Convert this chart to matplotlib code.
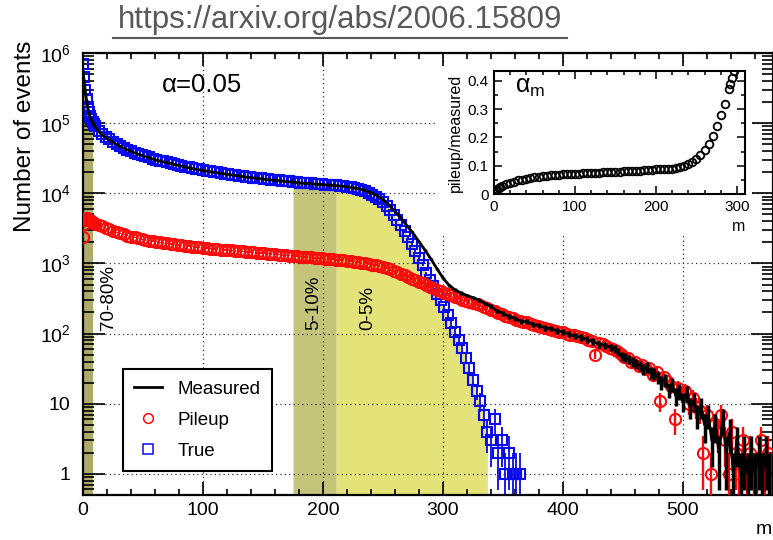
import numpy as np
import matplotlib.pyplot as plt
from matplotlib.lines import Line2D
from matplotlib.patches import Rectangle
from matplotlib.ticker import LogLocator, FuncFormatter, MultipleLocator, NullFormatter

plt.rcParams['font.family'] = ['Liberation Sans', 'DejaVu Sans']
plt.rcParams['mathtext.fontset'] = 'custom'
plt.rcParams['mathtext.rm'] = 'Liberation Sans'
plt.rcParams['mathtext.it'] = 'Liberation Sans:italic'

# ---- data ----
# True (blue squares): m = 0..9, then every 3rd bin 10..364
m_true = list(range(10)) + list(range(10, 367, 3))
true_counts = [700000, 450000, 300000, 220000, 170000, 145000, 125000, 115000, 105000, 98000,
               92000, 78000, 70000, 64000, 58500, 54000, 50500, 47000, 44500, 42000,   # 10..37
               40000, 38000, 36500, 35000, 33500, 32500, 31300, 30200, 29300, 28500,   # 40..67
               27500, 26800, 26000, 25300, 24600, 24000, 23400, 22800, 22400, 21900,   # 70..97
               21500, 21000, 20600, 20100, 19800, 19400, 19000, 18700, 18400, 18100,   # 100..127
               17800, 17500, 17200, 17000, 16700, 16500, 16300, 16100, 15900, 15700,   # 130..157
               15500, 15300, 15100, 14950, 14800, 14600, 14400, 14250, 14100, 13950,   # 160..187
               13800, 13700, 13550, 13450, 13300, 13200, 13100, 12950, 12800, 12600,   # 190..217
               12400, 12150, 11900, 11600, 11250, 10800, 10250, 9600, 8900, 8200,      # 220..247
               7400, 6600, 5750, 4950, 4200, 3500, 2900, 2350, 1900, 1500,             # 250..277
               1200, 950, 740, 590, 470, 370, 300, 240, 185, 140,                      # 280..307
               105, 80, 62, 45, 32, 22, 15, 11, 7, 4,                                  # 310..337
               3, 6, 2, 3, 1, 2, 1, 1, 1]                                              # 340..364

# Pileup (red circles): m = 0..9, then every 3rd bin 10..574
m_pileup = list(range(10)) + list(range(10, 576, 3))
pileup_counts = [2400, 3600, 4200, 4400, 4300, 4200, 4100, 4000, 3900, 3800,
                 3650, 3500, 3380, 3150, 3050, 2900, 2800, 2680, 2600, 2500,   # 10..37
                 2420, 2350, 2280, 2220, 2170, 2120, 2080, 2040, 2000, 1960,   # 40..67
                 1930, 1900, 1870, 1840, 1810, 1790, 1770, 1740, 1720, 1690,   # 70..97
                 1670, 1650, 1630, 1620, 1600, 1580, 1560, 1550, 1530, 1510,   # 100..127
                 1500, 1490, 1470, 1455, 1440, 1420, 1410, 1395, 1380, 1365,   # 130..157
                 1350, 1335, 1320, 1305, 1295, 1280, 1270, 1255, 1245, 1230,   # 160..187
                 1220, 1210, 1195, 1185, 1170, 1160, 1150, 1135, 1125, 1110,   # 190..217
                 1100, 1080, 1065, 1045, 1030, 1010, 990, 965, 940, 910,       # 220..247
                 880, 850, 820, 785, 750, 710, 675, 640, 610, 575,             # 250..277
                 545, 520, 490, 465, 445, 420, 400, 385, 365, 350,             # 280..307
                 335, 320, 305, 295, 285, 270, 262, 252, 240, 230,             # 310..337
                 220, 210, 198, 188, 180, 172, 165, 158, 153, 148,             # 340..367
                 145, 138, 133, 130, 124, 120, 117, 114, 110, 107,             # 370..397
                 104, 100, 97, 95, 91, 88, 86, 82, 79, 50,                     # 400..427
                 73, 71, 66, 63, 60, 56, 51, 47, 45, 40,                       # 430..457
                 39, 34, 36, 31, 32, 26, 28, 11, 24, 21,                       # 460..487
                 18, 6, 17, 14, 15, 10, 12, 9, 8, 2,                           # 490..517
                 7, 1, 5, 4, 7, 3, 1, 4, 2, 1,                                 # 520..547
                 3, 1, 2, 1, 1, 3, 1, 2, 1]                                    # 550..574

# Measured (black line)
m_meas = [0, 1, 2, 3, 4, 5, 6, 8, 10, 12, 15] + list(range(20, 440, 5)) + list(range(440, 576, 3))
measured_counts = [550000, 400000, 280000, 210000, 165000, 140000, 121000, 102000, 90000, 80000, 70000,
                   61000, 53000, 47500, 43000, 39500, 36500, 34000, 32000, 30000, 28600,
                   27200, 25900, 24700, 23700, 22700, 21900, 21200, 20400, 19800, 19200,
                   18600, 18100, 17600, 17100, 16700, 16300, 15900, 15600, 15300, 15000,
                   14700, 14400, 14100, 13900, 13700, 13500, 13300, 13100, 12900, 12700,
                   12400, 12000, 11600, 11000, 10200, 9300, 8100, 6800, 5500, 4400,
                   3450, 2700, 2050, 1550, 1150, 840, 620, 490, 420, 380,
                   350, 325, 300, 270, 245, 210, 195, 175, 165, 150,
                   148, 135, 131, 120, 118, 109, 106, 98, 92, 89,
                   82, 78, 71, 68,
                   64, 60, 55, 47, 46, 43, 40, 37, 35, 31,
                   33, 28, 27, 24, 20, 22, 16, 19, 13, 15,
                   11, 14, 9, 11, 7, 9, 5, 7, 3, 5,
                   2, 6, 2, 4, 1, 3, 1, 2, 1, 2,
                   1, 2, 1, 2, 1, 1]

# inset: pileup/measured
m_ratio = [0, 2, 4, 6, 8, 10] + list(range(15, 291, 5)) + [292, 294, 296]
ratio = [0.005, 0.012, 0.018, 0.022, 0.026, 0.029,
         0.035, 0.040, 0.044, 0.048, 0.051, 0.054, 0.057, 0.059, 0.061, 0.063,
         0.064, 0.066, 0.067, 0.068, 0.069, 0.070, 0.071, 0.071, 0.072, 0.073,
         0.074, 0.074, 0.075, 0.076, 0.077, 0.077, 0.078, 0.078, 0.079, 0.080,
         0.080, 0.081, 0.082, 0.083, 0.084, 0.085, 0.086, 0.087, 0.088, 0.088,
         0.089, 0.090, 0.092, 0.095, 0.100, 0.106, 0.114, 0.124, 0.138, 0.155,
         0.178, 0.205, 0.240, 0.280, 0.320, 0.370,
         0.39, 0.41, 0.435]

# centrality classes: (label, m from, m to, colour, label x)
bands = [('70-80%', 0, 8, '#aeaa6c', 21),
         ('5-10%', 175, 211, '#c4c47a', 192),
         ('0-5%', 211, 337, '#e3e37a', 237.5)]

mt = np.array(m_true)
tc = np.array(true_counts, dtype=float)
mp = np.array(m_pileup)
pc = np.array(pileup_counts, dtype=float)
mm = np.array(m_meas)
mc = np.array(measured_counts, dtype=float)

fig = plt.figure(figsize=(7.73, 5.40), dpi=100)
ax = fig.add_axes([83 / 773, 45 / 540, 690 / 773, 442 / 540])
ax.set_yscale('log')
ax.set_xlim(0, 575)
ax.set_ylim(0.5, 1e6)

for lab, lo, hi, col, xt in bands:
   sel = (mt >= lo) & (mt <= hi)
   ax.fill_between(mt[sel], tc[sel], 0.5, color=col, lw=0, zorder=0.3)
   ax.text(xt, 112, lab, rotation=90, ha='center', va='bottom', fontsize=13.5)

ax.errorbar(mt, tc, yerr=np.sqrt(tc), fmt='s', ms=7.5, mfc='none', mec='#0a0aee', mew=1.5,
            ecolor='#0a0aee', elinewidth=1.3, zorder=2)
ax.errorbar(mp, pc, yerr=np.sqrt(pc), fmt='o', ms=8, mfc='none', mec='#ff0a0a', mew=1.5,
            ecolor='#ff0a0a', elinewidth=1.7, zorder=3)
ax.errorbar(mm, mc, yerr=np.sqrt(mc), fmt='-', color='k', lw=2, elinewidth=2.5, zorder=4)

ax.grid(which='major', ls=(0, (1, 2.5)), color='#333333', lw=0.9)
ax.set_axisbelow(True)

ax.yaxis.set_major_locator(LogLocator(base=10, numticks=12))
ax.yaxis.set_minor_locator(LogLocator(base=10, subs=np.arange(2, 10), numticks=12))
ax.yaxis.set_minor_formatter(NullFormatter())
ax.yaxis.set_major_formatter(FuncFormatter(
   lambda v, p: '1' if v == 1 else ('10' if v == 10 else r'$10^{%d}$' % round(np.log10(v)))))
ax.xaxis.set_major_locator(MultipleLocator(100))
ax.xaxis.set_minor_locator(MultipleLocator(20))

ax.tick_params(which='both', direction='in', top=True, right=True, width=1.2, labelsize=14)
ax.tick_params(axis='x', which='major', length=9.5, pad=5)
ax.tick_params(axis='x', which='minor', length=4.5)
ax.tick_params(axis='y', which='major', length=16, pad=9)
ax.tick_params(axis='y', which='minor', length=8)
for s in ax.spines.values():
   s.set_linewidth(1.6)

ax.text(66, 10**5.54, 'α=0.05', fontsize=18.5, va='center', ha='left')

handles = [Line2D([], [], color='k', lw=2),
           Line2D([], [], ls='none', marker='o', ms=7, mfc='none', mec='#ff0a0a', mew=1.1),
           Line2D([], [], ls='none', marker='s', ms=6.5, mfc='none', mec='#0a0aee', mew=1.1)]
leg = ax.legend(handles, ['Measured', 'Pileup', 'True'], loc='lower left',
                bbox_to_anchor=(0.058, 0.054), borderaxespad=0, fontsize=13.5,
                fancybox=False, framealpha=1, edgecolor='k', labelspacing=0.75,
                handlelength=1.5, borderpad=0.6)
leg.get_frame().set_linewidth(1.5)
leg.set_zorder(6)

fig.text(25 / 773, 1 - 41 / 540, 'Number of events', rotation=90, ha='center', va='top', fontsize=17.5)
fig.text(0.999, 1 - 530 / 540, 'm', ha='right', va='center', fontsize=14)

# white pad behind the inset
fig.patches.append(Rectangle((435 / 773, 1 - 233 / 540), 317 / 773, 167 / 540,
                             transform=fig.transFigure, facecolor='white', edgecolor='none', zorder=1))

ins = fig.add_axes([494 / 773, 1 - 194 / 540, 251 / 773, 123 / 540])
ins.set_zorder(2)
ins.plot(m_ratio, ratio, 'o', ms=5.5, mfc='none', mec='k', mew=1.3)
ins.set_xlim(0, 310)
ins.set_ylim(0, 0.435)
ins.xaxis.set_major_locator(MultipleLocator(100))
ins.xaxis.set_minor_locator(MultipleLocator(20))
ins.yaxis.set_major_locator(MultipleLocator(0.1))
ins.yaxis.set_minor_locator(MultipleLocator(0.05))
ins.yaxis.set_major_formatter(FuncFormatter(lambda v, p: '0' if abs(v) < 1e-9 else '%g' % round(v, 2)))
ins.tick_params(which='both', direction='in', top=True, right=True, width=1.1, labelsize=11)
ins.tick_params(which='major', length=6, pad=4)
ins.tick_params(which='minor', length=3)
for s in ins.spines.values():
   s.set_linewidth(1.5)
ins.set_ylabel('pileup/measured', fontsize=11.5, labelpad=3)
ins.set_xlabel('m', fontsize=11.5)
ins.xaxis.set_label_coords(1.0, -0.2)
ins.xaxis.label.set_ha('right')
ins.text(26, 0.377, r'α$_\mathregular{m}$', fontsize=18, va='center', ha='left')

# source link on top
fig.text(340 / 773, 1 - 20 / 540, 'https://arxiv.org/abs/2006.15809', ha='center', va='center',
         fontsize=22.5, color='#595959')
fig.add_artist(Line2D([113 / 773, 567 / 773], [1 - 38 / 540, 1 - 38 / 540], color='#595959', lw=1.5))

fig.savefig('out.png', dpi=100)
